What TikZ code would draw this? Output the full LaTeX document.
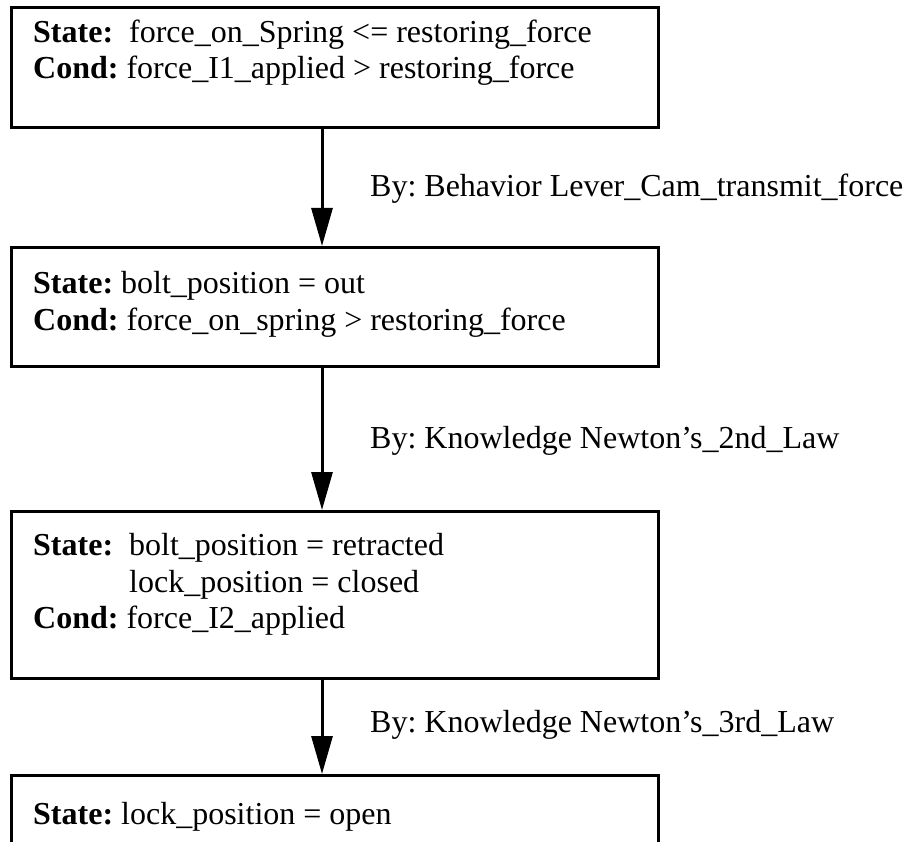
\documentclass[tikz,border=0pt]{standalone}
\usepackage{fontspec}
\setmainfont{Liberation Serif}
\usetikzlibrary{arrows.meta}
\frenchspacing
\begin{document}
\begin{tikzpicture}[x=1pt,y=-1pt,
  statebox/.style={draw, line width=3pt, inner sep=0pt, anchor=north west, minimum width=647pt},
  flow/.style={line width=3pt, -{Triangle[length=38pt,width=21pt]}},
  txt/.style={anchor=base west, inner sep=0pt, font=\fontsize{32}{36}\selectfont},
  lbl/.style={anchor=base west, inner sep=0pt, font=\fontsize{32}{36}\selectfont}]
\useasboundingbox (0,0) rectangle (907,842);
\clip (0,0) rectangle (907,842);
\fill[white] (0,0) rectangle (907,842);

% state boxes
\node[statebox, minimum height=120pt] (s1) at (10,6) {};
\node[statebox, minimum height=119pt] (s2) at (10,246) {};
\node[statebox, minimum height=167pt] (s3) at (10,510) {};
\node[statebox, minimum height=130pt] (s4) at (10,774) {};

% box contents
\node[txt] (t1a) at (33,43) {\textbf{State:}\ \ force\_on\_Spring <= restoring\_force};
\node[txt] (t1b) at (33,79) {\textbf{Cond:} force\_I1\_applied > restoring\_force};
\node[txt] (t2a) at (33,293) {\textbf{State:} bolt\_position = out};
\node[txt] (t2b) at (33,330) {\textbf{Cond:} force\_on\_spring > restoring\_force};
\node[txt] (t3a) at (33,555) {\textbf{State:}\ \ bolt\_position = retracted};
\node[txt] (t3b) at (33,592) {\hphantom{\textbf{State:}\ \ }lock\_position = closed};
\node[txt] (t3c) at (33,628) {\textbf{Cond:} force\_I2\_applied};
\node[txt] (t4a) at (33,824) {\textbf{State:} lock\_position = open};

% transitions
\coordinate (ax) at (322,0);
\draw[flow] (s1.south -| ax) -- (s2.north -| ax);
\draw[flow] (s2.south -| ax) -- (s3.north -| ax);
\draw[flow] (s3.south -| ax) -- (s4.north -| ax);

\node[lbl] (l1) at (370,197) {By: Behavior Lever\_Cam\_transmit\_force};
\node[lbl] (l2) at (370,448) {By: Knowledge Newton’s\_2nd\_Law};
\node[lbl] (l3) at (370,732) {By: Knowledge Newton’s\_3rd\_Law};
\end{tikzpicture}
\end{document}
